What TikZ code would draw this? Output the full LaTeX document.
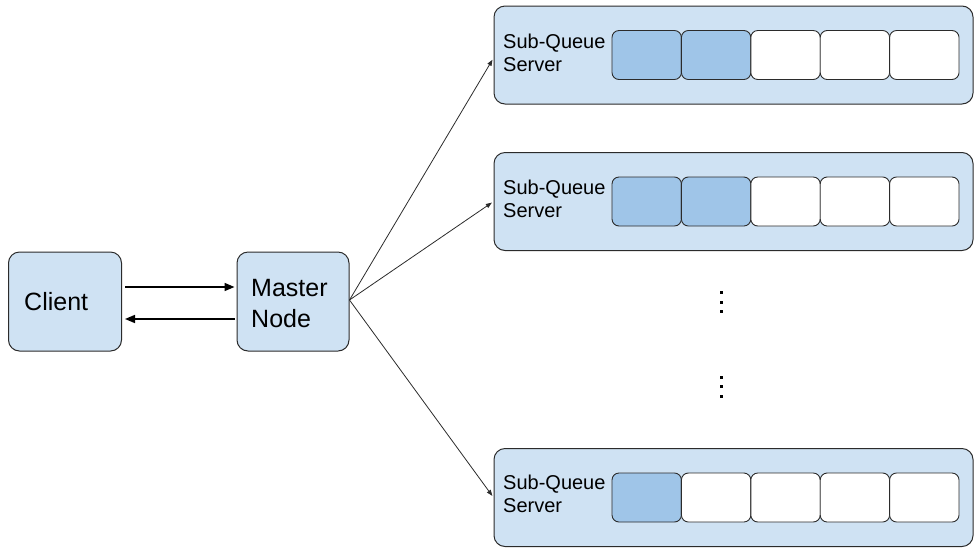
\documentclass[tikz,border=0pt]{standalone}
\usepackage{fontspec}
\setmainfont{Liberation Sans}
\usetikzlibrary{arrows.meta}
\definecolor{boxfill}{HTML}{CFE2F3}
\definecolor{cellfill}{HTML}{9FC5E8}
\definecolor{edge}{HTML}{2B2B2B}
\begin{document}
\begin{tikzpicture}[x=1pt,y=-1pt,
  box/.style={draw=edge, fill=boxfill, line width=1pt, rounded corners=11pt, inner sep=0pt},
  server/.style={box, minimum width=479pt, minimum height=98pt},
  cell/.style={draw=edge, line width=0.9pt, rounded corners=7pt, inner sep=0pt, minimum width=69.4pt, minimum height=49pt, fill=white},
  full/.style={fill=cellfill},
  bigtxt/.style={anchor=base west, inner sep=0pt, font=\fontsize{25}{25}\selectfont},
  smalltxt/.style={anchor=base west, inner sep=0pt, font=\fontsize{20}{20}\selectfont},
  thick arr/.style={line width=1.6pt, -{Triangle[length=10pt,width=8pt]}},
  thin arr/.style={line width=0.8pt, draw=edge, -{Triangle[length=6pt,width=4.5pt]}, shorten >=2pt},
  dotmark/.style={fill=black}
]
\useasboundingbox (0,0) rectangle (976,550);

% Client and master
\node[box, minimum width=113pt, minimum height=99pt] (client) at (65,301.5) {};
\node[box, minimum width=112pt, minimum height=99pt] (master) at (293,301.5) {};
\node[bigtxt] (clienttxt) at (24,310) {Client};
\node[bigtxt] (mastertxt1) at (251,296) {Master};
\node[bigtxt] (mastertxt2) at (251,327) {Node};

\draw[thick arr, shorten <=3pt, shorten >=2pt] ([yshift=14.5pt]client.east) -- ([yshift=14.5pt]master.west);
\draw[thick arr, shorten <=2pt, shorten >=3pt] ([yshift=-17.5pt]master.west) -- ([yshift=-17.5pt]client.east);

% Servers
\node[server] (s1) at (733.5,55) {};
\node[server] (s2) at (733.5,201.5) {};
\node[server] (s3) at (733.5,497.5) {};

\foreach \s/\n in {s1/2,s2/2,s3/1}{
  \foreach \i in {1,...,5}{
    \pgfmathsetmacro{\cx}{612+34.7+69.4*(\i-1)}
    \ifnum\i>\n
      \node[cell] (\s c\i) at (\cx,0 |- \s.center) {};
    \else
      \node[cell, full] (\s c\i) at (\cx,0 |- \s.center) {};
    \fi
  }
}

\node[smalltxt] (s1a) at (503,48) {Sub-Queue};
\node[smalltxt] (s1b) at (503,71) {Server};
\node[smalltxt] (s2a) at (503,194) {Sub-Queue};
\node[smalltxt] (s2b) at (503,217) {Server};
\node[smalltxt] (s3a) at (503,489) {Sub-Queue};
\node[smalltxt] (s3b) at (503,512) {Server};

% Fan-out
\coordinate (fan) at ([yshift=1.5pt]master.east);
\draw[thin arr] (fan) -- ([yshift=-3pt]s1.west);
\draw[thin arr] (fan) -- (s2.west);
\draw[thin arr] (fan) -- (s3.west);

% Dots
\foreach \yy in {292,302,311,377,386,396}{
  \fill[dotmark] (719.5,\yy-1.5) rectangle (722.5,\yy+1.5);
}
\end{tikzpicture}
\end{document}
